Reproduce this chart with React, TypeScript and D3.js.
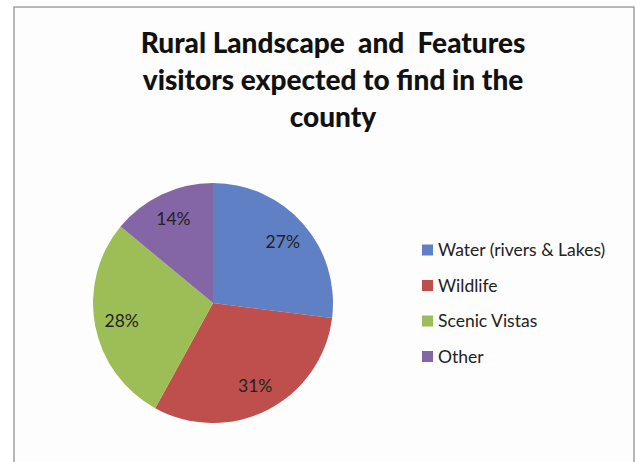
import React from "react";
import * as d3 from "d3";

const categories = ["Water (rivers & Lakes)", "Wildlife", "Scenic Vistas", "Other"];
const values = [27, 31, 28, 14];
const colors = ["#5F80C4", "#BF4F4C", "#9DBE56", "#8465A6"];
const titleLines = ["Rural Landscape  and  Features", "visitors expected to find in the", "county"];

export default function App() {
  const W = 636, H = 462;
  const cx = 213, cy = 303, r = 120;
  const pie = d3.pie<number>().sort(null).value((d) => d)(values);
  const arc = d3.arc<d3.PieArcDatum<number>>().innerRadius(0).outerRadius(r);
  const labelArc = d3.arc<d3.PieArcDatum<number>>().innerRadius(93).outerRadius(93);
  const total = d3.sum(values);
  const legendY = d3.scalePoint<number>().domain(d3.range(categories.length)).range([250, 356.5]);
  const font = "Lato, 'Open Sans', sans-serif";
  return (
    <svg width={W} height={H} style={{ position: "absolute", left: 0, top: 0, background: "#fff" }}>
      <rect x={14} y={7} width={620} height={470} fill="#fdfdfd" stroke="#a0a0a0" strokeWidth={1.5} />
      <g fontFamily={font} fontWeight={900} fontSize={28} fill="#111" textAnchor="middle">
        {titleLines.map((t, i) => (
          <text key={i} x={333} y={53 + i * 37} style={{ whiteSpace: "pre" }}>{t}</text>
        ))}
      </g>
      <g transform={`translate(${cx},${cy})`}>
        {pie.map((p, i) => (
          <path key={i} d={arc(p) || ""} fill={colors[i]} />
        ))}
        {pie.map((p, i) => {
          const [x, y] = labelArc.centroid(p);
          return (
            <text key={"l" + i} x={x} y={y} dy="0.35em" textAnchor="middle" fontFamily={font} fontSize={17.5} fill="#222">
              {Math.round((p.data / total) * 100)}%
            </text>
          );
        })}
      </g>
      <g fontFamily={font} fontSize={17.5} fill="#222">
        {categories.map((c, i) => (
          <g key={c} transform={`translate(422,${legendY(i)})`}>
            <rect x={0} y={-5.5} width={11} height={11} fill={colors[i]} />
            <text x={16} y={0} dy="0.36em">{c}</text>
          </g>
        ))}
      </g>
    </svg>
  );
}
